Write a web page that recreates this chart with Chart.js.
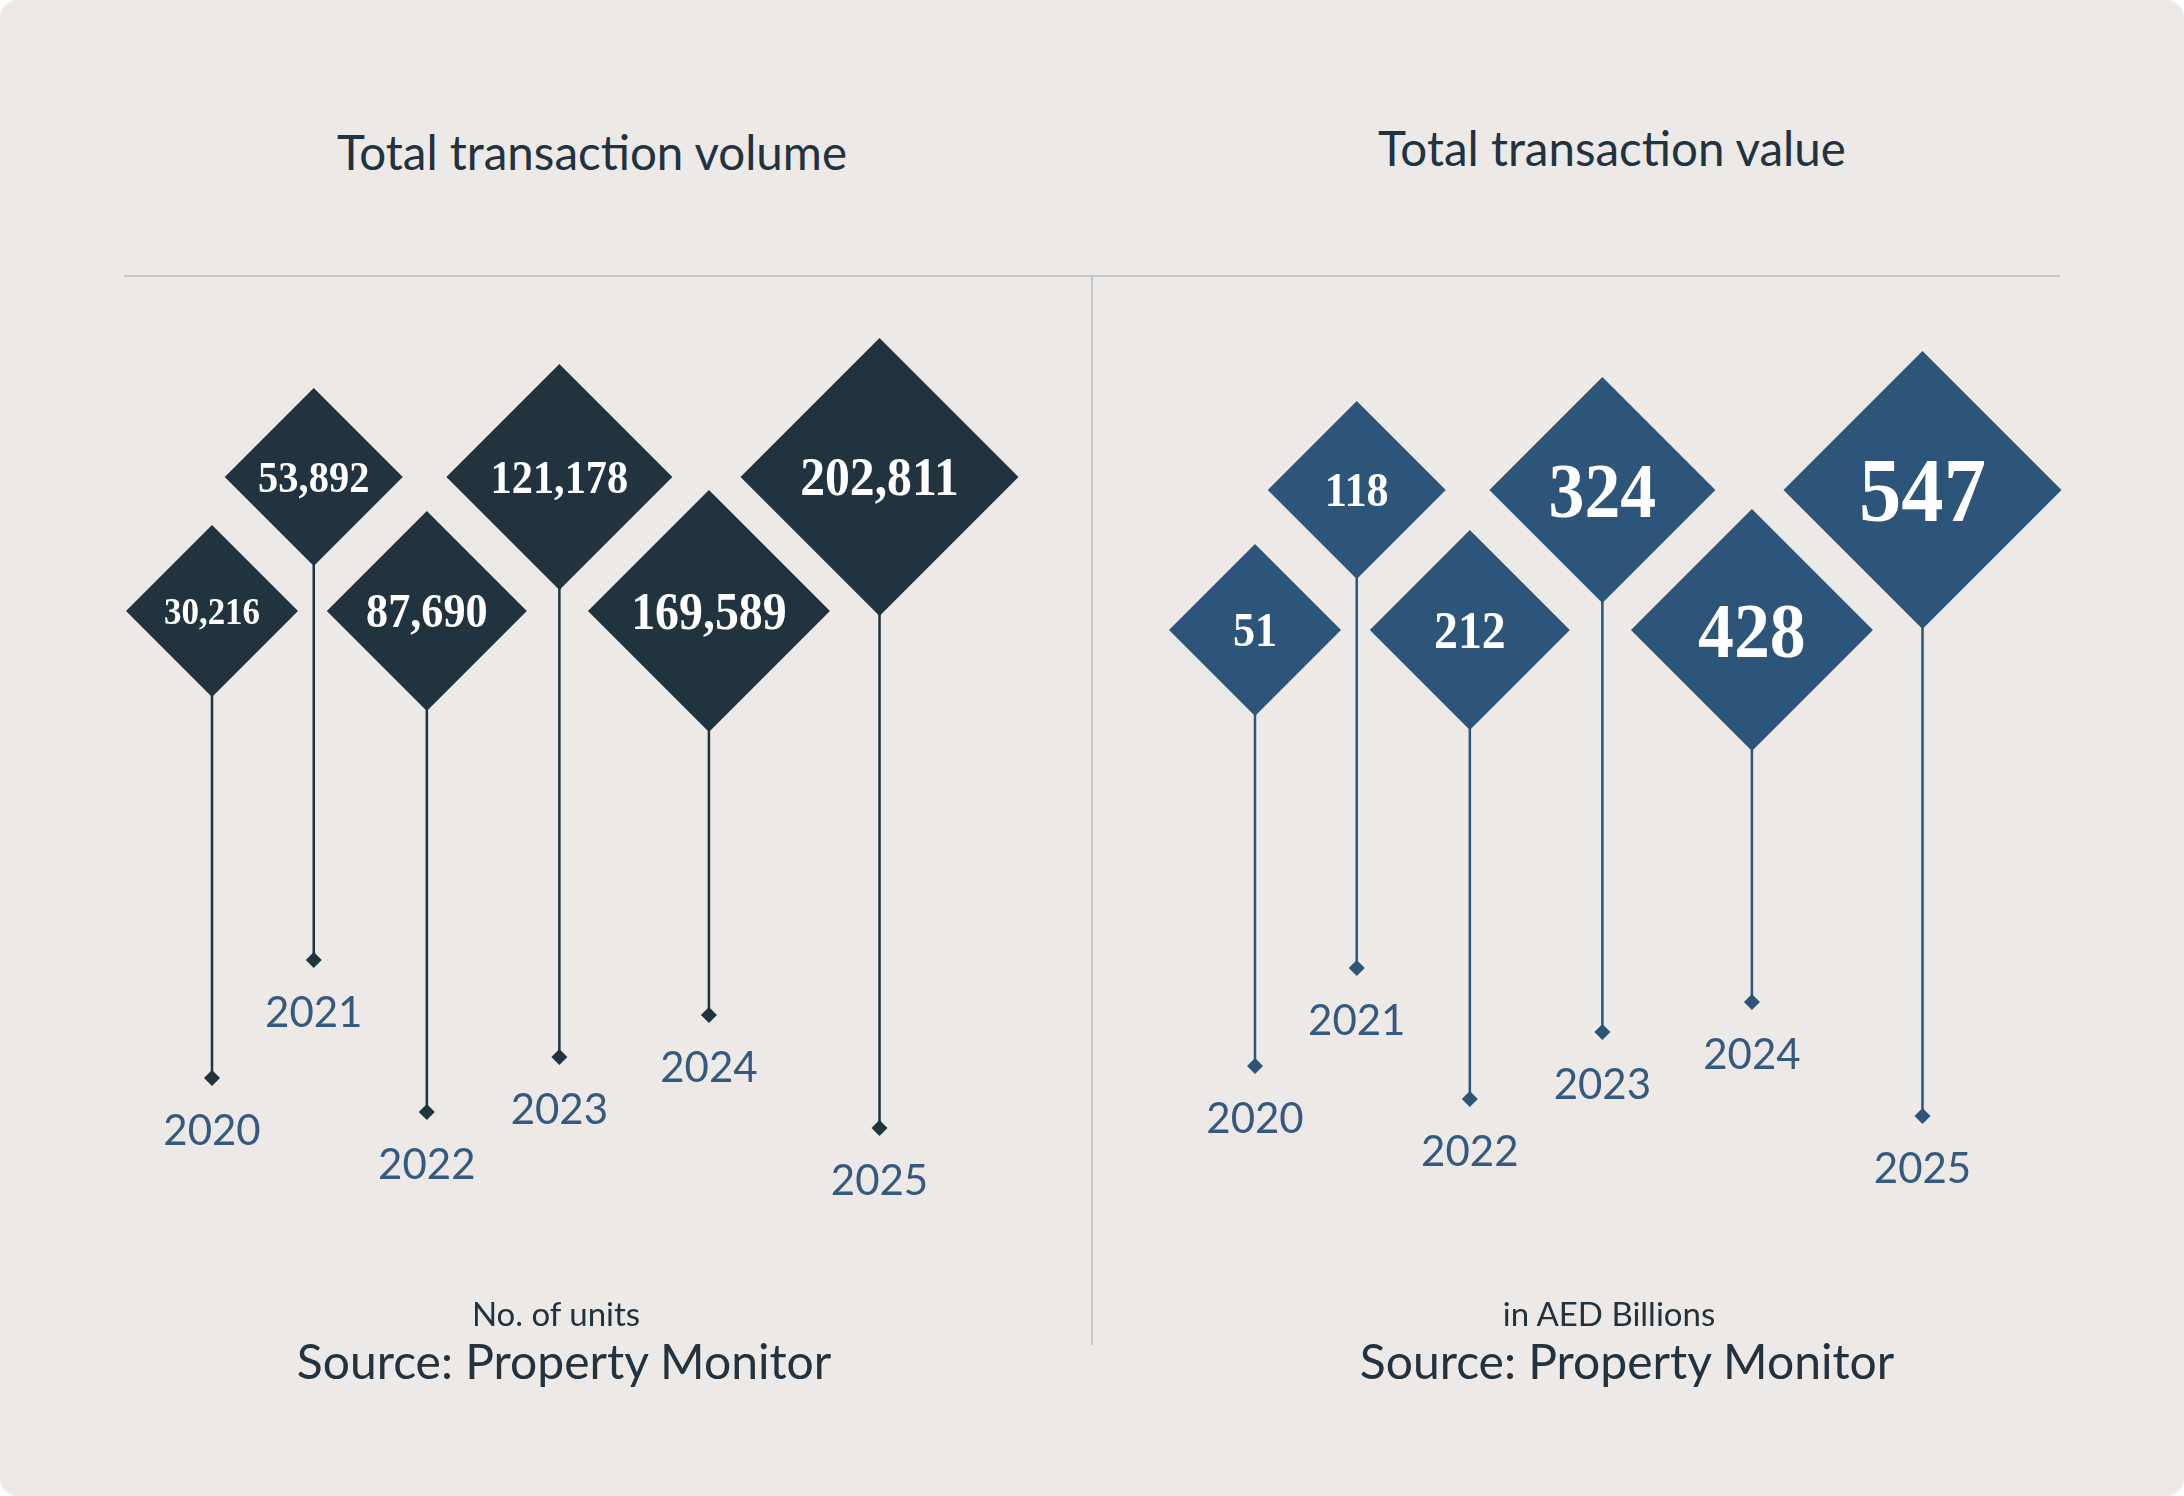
<!DOCTYPE html>
<html>
<head>
<meta charset="utf-8">
<script src="https://cdn.jsdelivr.net/npm/chart.js@4.4.1/dist/chart.umd.min.js"></script>
<style>
  html, body { margin: 0; padding: 0; background: #ffffff; }
  #card {
    position: absolute; left: 0; top: 0; width: 2184px; height: 1496px;
    background: #ECE9E6; border-radius: 18px; overflow: hidden;
    font-family: Lato, "Noto Sans", sans-serif; color: #22333F;
  }
  .txt { position: absolute; white-space: nowrap; line-height: 1; transform: translate(-50%, -50%); }
  .title { font-size: 47.5px; font-weight: 400; }
  .unit { font-size: 33px; font-weight: 400; }
  .source { font-size: 48px; font-weight: 400; }
  .rule { position: absolute; background: #BFC8CB; }
  canvas { position: absolute; top: 0; }
</style>
</head>
<body>
<div id="card">
  <div class="txt title" style="left:592px; top:152px;">Total transaction volume</div>
  <div class="txt title" style="left:1612px; top:148px;">Total transaction value</div>

  <div class="rule" style="left:124px; top:275px; width:1936px; height:2px;"></div>
  <div class="rule" style="left:1091px; top:277px; width:2px; height:1068px;"></div>

  <canvas id="volumeChart" style="left:0px;"></canvas>
  <canvas id="valueChart" style="left:1092px;"></canvas>

  <div class="txt unit" style="left:556px; top:1313px;">No. of units</div>
  <div class="txt source" style="left:564px; top:1361px;">Source: Property Monitor</div>
  <div class="txt unit" style="left:1609px; top:1313px;">in AED Billions</div>
  <div class="txt source" style="left:1627px; top:1361px;">Source: Property Monitor</div>
</div>

<script>
// data
const years = ['2020', '2021', '2022', '2023', '2024', '2025'];
const volume = [30216, 53892, 87690, 121178, 169589, 202811];
const value = [51, 118, 212, 324, 428, 547];

// layout / style
const diamondSize = [86, 89, 100, 113, 121, 139];
const volumeFont = [38, 44, 48, 46, 52, 54];
const valueFont = [48, 48, 52, 78, 78, 92];
const volumeStemEnd = [1078, 960, 1112, 1057, 1015, 1128];
const valueStemEnd = [1066, 968, 1099, 1032, 1002, 1116];

// diamonds overlap their neighbours: spacing grows with their size
function positions(left) {
  var xs = [left + diamondSize[0]];
  for (var i = 1; i < diamondSize.length; i++) {
    xs.push(xs[i - 1] + 0.81 * (diamondSize[i - 1] + diamondSize[i]) - 40);
  }
  return xs;
}

var labelPlugin = {
  id: 'diamondLabels',
  afterDatasetsDraw: function(chart, args, o) {
    var ctx = chart.ctx;
    var dia = chart.getDatasetMeta(0).data;
    var ends = chart.getDatasetMeta(1).data;
    dia.forEach(function(pt, i) {
      var f = o.fonts[i];
      ctx.save();
      ctx.translate(pt.x, pt.y + f * 0.34);
      ctx.scale(0.92, 1);
      ctx.font = 'bold ' + f + 'px "Liberation Serif", "DejaVu Serif", serif';
      ctx.fillStyle = '#ffffff';
      ctx.textAlign = 'center';
      ctx.textBaseline = 'alphabetic';
      ctx.fillText(o.values[i].toLocaleString('en-US'), 0, 0);
      ctx.restore();
    });
    ends.forEach(function(pt, i) {
      ctx.save();
      ctx.font = '400 42px Lato, "Noto Sans", sans-serif';
      ctx.fillStyle = '#36597F';
      ctx.textAlign = 'center';
      ctx.textBaseline = 'alphabetic';
      ctx.fillText(years[i], pt.x, pt.y + 67);
      ctx.restore();
    });
  }
};

function makeChart(id, cfg) {
  var canvas = document.getElementById(id);
  canvas.width = 1092;
  canvas.height = 1496;
  canvas.style.width = '1092px';
  canvas.style.height = '1496px';
  var xs = positions(cfg.left);
  var rowY = years.map(function(y, i) { return i % 2 ? cfg.rows[1] : cfg.rows[0]; });

  var diamonds = xs.map(function(x, i) { return { x: x, y: rowY[i] }; });
  var ends = xs.map(function(x, i) { return { x: x, y: cfg.stemEnd[i] }; });
  var stems = [];
  xs.forEach(function(x, i) {
    stems.push({ x: x, y: rowY[i] }, { x: x, y: cfg.stemEnd[i] }, { x: x, y: null });
  });

  return new Chart(canvas.getContext('2d'), {
    type: 'line',
    data: {
      datasets: [{
        data: diamonds,
        showLine: false,
        pointStyle: 'rectRot',
        pointRadius: diamondSize,
        pointBackgroundColor: cfg.color,
        pointBorderWidth: 0
      }, {
        data: ends,
        showLine: false,
        pointStyle: 'rectRot',
        pointRadius: 8,
        pointBackgroundColor: cfg.color,
        pointBorderWidth: 0
      }, {
        data: stems,
        borderColor: cfg.color,
        borderWidth: 2.5,
        pointRadius: 0,
        spanGaps: false
      }]
    },
    options: {
      responsive: false,
      animation: false,
      devicePixelRatio: 1,
      layout: { padding: 0, autoPadding: false },
      scales: {
        x: { type: 'linear', display: false, min: cfg.min, max: cfg.min + 1092 },
        y: { type: 'linear', display: false, min: 0, max: 1496, reverse: true }
      },
      plugins: {
        legend: { display: false },
        tooltip: { enabled: false },
        diamondLabels: { values: cfg.values, fonts: cfg.fonts }
      }
    },
    plugins: [labelPlugin]
  });
}

makeChart('volumeChart', {
  values: volume, fonts: volumeFont, color: '#21333F',
  min: 0, left: 126, rows: [611, 477], stemEnd: volumeStemEnd
});
makeChart('valueChart', {
  values: value, fonts: valueFont, color: '#2D5479',
  min: 1092, left: 1169, rows: [630, 490], stemEnd: valueStemEnd
});
</script>
</body>
</html>
